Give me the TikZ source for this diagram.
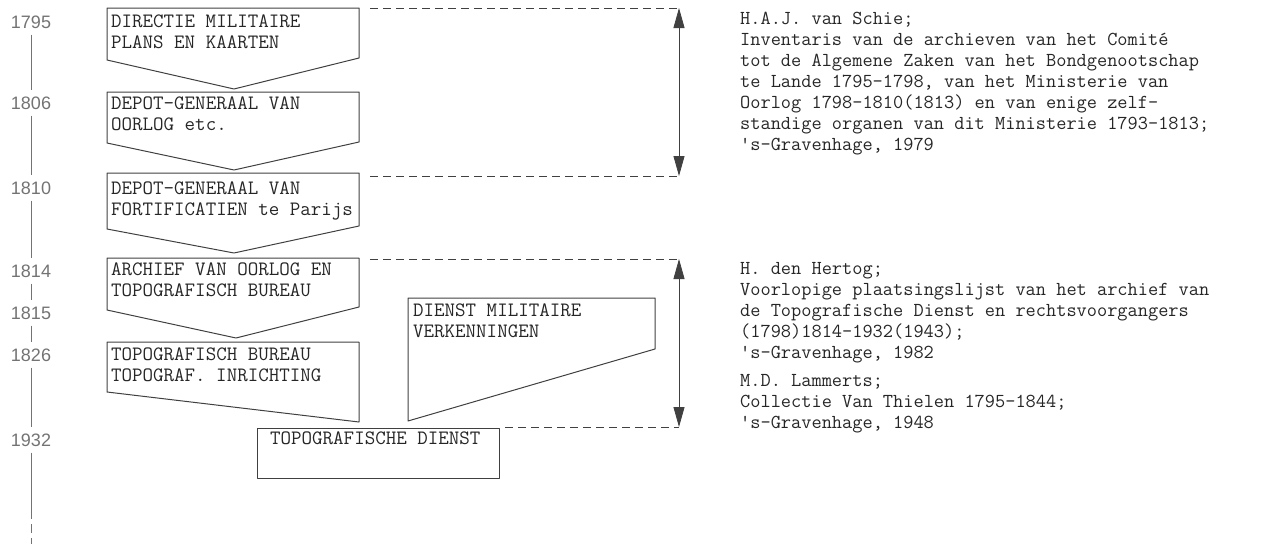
\documentclass[tikz,border=0pt]{standalone}
\usepackage{fontspec}
\setsansfont{Liberation Sans}
\usetikzlibrary{arrows.meta, positioning}

\tikzset{
  box/.style={draw=black!75, line width=1pt, line join=round},
  boxtext/.style={anchor=north west, inner sep=0pt, align=left, text=black!85,
    font=\ttfamily\fontsize{20.4}{21}\selectfont},
  reftext/.style={anchor=north west, inner sep=0pt, align=left, text=black!85,
    font=\ttfamily\fontsize{19.8}{21}\selectfont},
  year/.style={inner sep=6pt, text=black!55, font=\sffamily\fontsize{18}{18}\selectfont},
  timeline/.style={draw=black!55, line width=0.9pt},
  guide/.style={draw=black!75, line width=1pt, dash pattern=on 8pt off 5pt},
  span/.style={draw=black!75, line width=0.8pt,
    {Triangle[length=20pt,width=11pt]}-{Triangle[length=20pt,width=11pt]}},
}

\begin{document}
\begin{tikzpicture}[x=1pt, y=-1pt]
        \useasboundingbox (0,0) rectangle (1261,544);
        % years
        \node[year] (y1795) at (31,22) {1795};
        \node[year] (y1806) at (31,103) {1806};
        \node[year] (y1810) at (31,188) {1810};
        \node[year] (y1814) at (31,271) {1814};
        \node[year] (y1815) at (31,313) {1815};
        \node[year] (y1826) at (31,355) {1826};
        \node[year] (y1932) at (31,440) {1932};
        \coordinate (tlend) at (31,510);
        \coordinate (tlout) at (31,544);
        \draw[timeline] (y1795)--(y1806);
        \draw[timeline] (y1806)--(y1810);
        \draw[timeline] (y1810)--(y1814);
        \draw[timeline] (y1814)--(y1815);
        \draw[timeline] (y1815)--(y1826);
        \draw[timeline] (y1826)--(y1932);
        \draw[timeline] (y1932)--(tlend);
        \draw[timeline, dash pattern=on 9pt off 5pt] (tlend)--(tlout);

        % boxes
        \draw[box] (107,60)--(107,8)--(359,8)--(359,58)--(234,89)--cycle;
        \draw[box] (107,143)--(107,92)--(359,92)--(359,142)--(234,170)--cycle;
        \draw[box] (107,229)--(107,173)--(359,173)--(359,226)--(234,253)--cycle;
        \draw[box] (107,310)--(107,258)--(359,258)--(359,307)--(236,338)--cycle;
        \draw[box] (107,392)--(107,342)--(359,342)--(359,422)--cycle;
        \draw[box] (408,421)--(408,298)--(655,298)--(655,349)--cycle;
        \draw[box] (257,428) rectangle (499,478);

        \node[boxtext] (b1) at (111,15) {DIRECTIE MILITAIRE\\PLANS EN KAARTEN};
        \node[boxtext] (b2) at (111,97) {DEPOT-GENERAAL VAN\\OORLOG etc.};
        \node[boxtext] (b3) at (111,182) {DEPOT-GENERAAL VAN\\FORTIFICATIEN te Parijs};
        \node[boxtext] (b4) at (111,263) {ARCHIEF VAN OORLOG EN\\TOPOGRAFISCH BUREAU};
        \node[boxtext] (b5) at (111,348) {TOPOGRAFISCH BUREAU\\TOPOGRAF. INRICHTING};
        \node[boxtext] (b6) at (413,304) {DIENST MILITAIRE\\VERKENNINGEN};
        \node[boxtext] (b7) at (270,432) {TOPOGRAFISCHE DIENST};

        % guides and spans
        \coordinate (g1a) at (370,8);   \coordinate (g1b) at (679,8);
        \coordinate (g2a) at (370,176); \coordinate (g2b) at (679,176);
        \coordinate (g3a) at (370,259); \coordinate (g3b) at (679,259);
        \coordinate (g4a) at (505,427); \coordinate (g4b) at (679,427);
        \draw[guide] (g1a)--(g1b);
        \draw[guide] (g2a)--(g2b);
        \draw[guide] (g3a)--(g3b);
        \draw[guide] (g4a)--(g4b);
        \draw[span] (g1b)--(g2b);
        \draw[span] (g3b)--(g4b);

        % sources
        \node[reftext] (src1) at (740,12) {H.A.J. van Schie;\\
          Inventaris van de archieven van het Comité\\
          tot de Algemene Zaken van het Bondgenootschap\\
          te Lande 1795-1798, van het Ministerie van\\
          Oorlog 1798-1810(1813) en van enige zelf-\\
          standige organen van dit Ministerie 1793-1813;\\
          's-Gravenhage, 1979};
        \node[reftext] (src2) at (740,262) {H. den Hertog;\\
          Voorlopige plaatsingslijst van het archief van\\
          de Topografische Dienst en rechtsvoorgangers\\
          (1798)1814-1932(1943);\\
          's-Gravenhage, 1982};
        \node[reftext] (src3) at (740,374) {M.D. Lammerts;\\
          Collectie Van Thielen 1795-1844;\\
          's-Gravenhage, 1948};
\end{tikzpicture}
\end{document}
